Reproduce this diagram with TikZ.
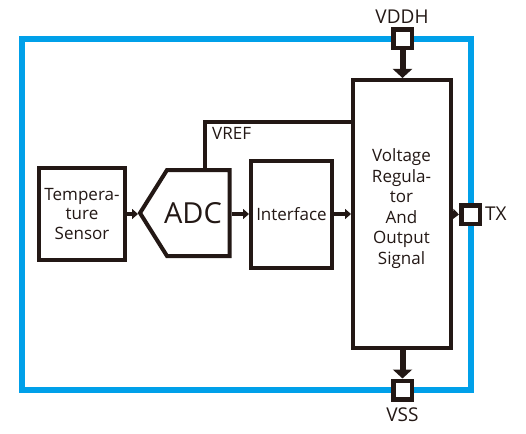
\documentclass[tikz,border=0pt]{standalone}
\usepackage{fontspec}
\setmainfont{Open Sans}
\usetikzlibrary{arrows.meta}
\definecolor{ink}{HTML}{231815}
\definecolor{frameblue}{HTML}{00A0E9}
\begin{document}
\begin{tikzpicture}[x=1pt,y=-1pt,
  box/.style={draw=ink, line width=4pt, inner sep=0pt, text=ink, align=center, font=\fontsize{17}{19.5}\selectfont},
  pin/.style={draw=ink, line width=4.5pt, fill=white, minimum size=18.5pt, inner sep=0pt},
  lbl/.style={text=ink, font=\fontsize{17}{20.6}\selectfont, align=center, inner sep=0pt},
  pinlbl/.style={text=ink, font=\fontsize{19}{22}\selectfont, inner sep=0pt},
  sarrow/.style={draw=ink, line width=3.5pt, -{Triangle[length=6pt,width=10pt]}},
  barrow/.style={draw=ink, line width=6pt, -{Triangle[length=9pt,width=19pt]}},
  wire/.style={draw=ink, line width=4pt}]
\useasboundingbox (0,0) rectangle (526,433);
\fill[white] (0,0) rectangle (526,433);
% outer frame
\draw[frameblue, line width=6pt] (21.5,39) rectangle (470.5,390);
% blocks
\node[box, minimum width=86pt, minimum height=92pt] (ts) at (82,214) {Tempera-\\ture\\Sensor};
\draw[ink, line width=4pt, line join=miter] (167,170) -- (229.5,170) -- (229.5,256) -- (167,256) -- (140,213) -- cycle;
\node[text=ink, inner sep=0pt, font=\fontsize{29}{32}\selectfont] (adc) at (193,213) {ADC};
\coordinate (adctip) at (138,214);
\coordinate (adcR) at (231.5,214);
\coordinate (adcT) at (204.5,170);
\node[box, minimum width=81pt, minimum height=107pt] (if) at (291.5,214) {Interface};
\node[box, minimum width=97.5pt, minimum height=268pt] (vr) at (401.75,214) {};
\node[lbl] (vrtext) at (401.5,208.5) {Voltage\\Regula-\\tor\\And\\Output\\Signal};
\coordinate (vrefin) at (351,122);
% pins
\node[pin] (vddh) at (402.5,39) {};
\node[pin] (tx) at (470.5,214.5) {};
\node[pin] (vss) at (402.5,390) {};
\node[pinlbl] (vddhl) at (402,17) {VDDH};
\node[pinlbl, anchor=west] (txl) at (485,214) {TX};
\node[pinlbl] (vssl) at (402.5,415) {VSS};
\node[lbl, anchor=west] (vrefl) at (212,133) {VREF};
% connectors
\draw[wire] (adcT) |- (vrefin);
\draw[sarrow] (ts.east) -- (adctip);
\draw[sarrow] (adcR) -- (if.west);
\draw[sarrow] (if.east) -- (vr.west);
\draw[sarrow] (vr.east) -- (tx.west);
\draw[barrow] (vddh.south) -- (vddh.south |- vr.north);
\draw[barrow] (vss.north |- vr.south) -- (vss.north);
\end{tikzpicture}
\end{document}
